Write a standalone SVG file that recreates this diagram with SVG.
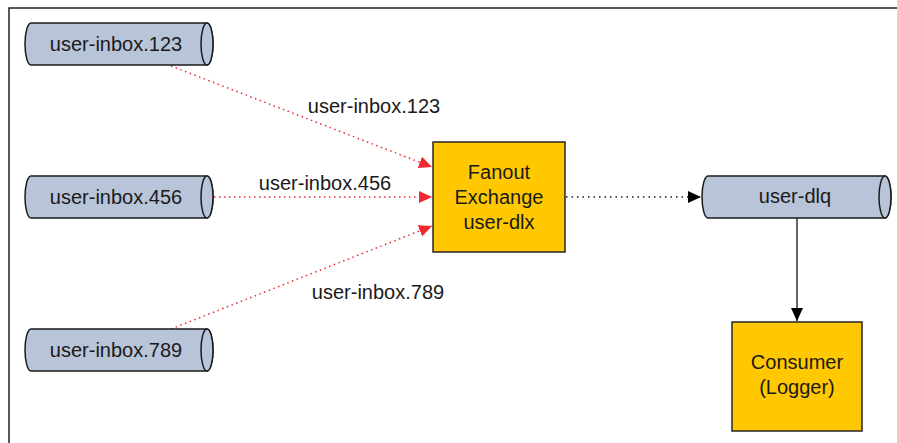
<svg xmlns="http://www.w3.org/2000/svg" width="897" height="443" viewBox="0 0 897 443">
<style>
.cyl{fill:#b8c4d8;stroke:#1a1a1a;stroke-width:1.5}
.box{fill:#ffc800;stroke:#262626;stroke-width:1.5}
text{font-family:"Liberation Sans",Arial,sans-serif;font-size:20px;fill:#1a1a1a;text-anchor:middle;dominant-baseline:central}
.red{stroke:#ee2a2f;stroke-width:1.5;stroke-dasharray:1.5 3.5;fill:none}
.blkdot{stroke:#1a1a1a;stroke-width:1.5;stroke-dasharray:1.5 4;fill:none}
.solid{stroke:#333;stroke-width:1.5;fill:none}
</style>
<defs>
<marker id="ar" markerWidth="14" markerHeight="12" refX="13" refY="6" orient="auto" markerUnits="userSpaceOnUse"><path d="M0,0 L13,6 L0,12 Z" fill="#ee2a2f"/></marker>
<marker id="ab" markerWidth="14" markerHeight="12" refX="13" refY="6" orient="auto" markerUnits="userSpaceOnUse"><path d="M0,0 L13,6 L0,12 Z" fill="#000"/></marker>
</defs>
<rect width="897" height="443" fill="#fff"/>
<path d="M9,443 L9,8 L897,8" fill="none" stroke="#222" stroke-width="1.5"/>
<g id="connectors">
<line class="red" x1="171" y1="66" x2="432" y2="167" marker-end="url(#ar)"/>
<line class="red" x1="214" y1="197" x2="432" y2="197" marker-end="url(#ar)"/>
<line class="red" x1="171" y1="329" x2="432" y2="226" marker-end="url(#ar)"/>
<line class="blkdot" x1="566" y1="197" x2="701" y2="197" marker-end="url(#ab)"/>
<line class="solid" x1="797" y1="218" x2="797" y2="321" marker-end="url(#ab)"/>
<text x="374" y="106">user-inbox.123</text>
<text x="325" y="183">user-inbox.456</text>
<text x="378" y="292">user-inbox.789</text>
</g>
<g id="q123">
<path class="cyl" d="M31,23 L207,23 A6,21 0 0 1 207,65 L31,65 A6,21 0 0 1 31,23 Z"/>
<ellipse class="cyl" cx="207" cy="44" rx="6" ry="21"/>
<text x="116" y="44">user-inbox.123</text>
</g>
<g id="q456">
<path class="cyl" d="M31,176 L207,176 A6,21 0 0 1 207,218 L31,218 A6,21 0 0 1 31,176 Z"/>
<ellipse class="cyl" cx="207" cy="197" rx="6" ry="21"/>
<text x="116" y="197">user-inbox.456</text>
</g>
<g id="q789">
<path class="cyl" d="M31,329 L207,329 A6,21 0 0 1 207,371 L31,371 A6,21 0 0 1 31,329 Z"/>
<ellipse class="cyl" cx="207" cy="350" rx="6" ry="21"/>
<text x="116" y="350">user-inbox.789</text>
</g>
<g id="exchange">
<rect class="box" x="433" y="142" width="132" height="110"/>
<text x="499" y="172">Fanout</text>
<text x="499" y="197">Exchange</text>
<text x="499" y="222">user-dlx</text>
</g>
<g id="dlq">
<path class="cyl" d="M708,176 L885,176 A6,21 0 0 1 885,218 L708,218 A6,21 0 0 1 708,176 Z"/>
<ellipse class="cyl" cx="885" cy="197" rx="6" ry="21"/>
<text x="795" y="196">user-dlq</text>
</g>
<g id="consumer">
<rect class="box" x="732" y="322" width="130" height="109"/>
<text x="797" y="362">Consumer</text>
<text x="797" y="387">(Logger)</text>
</g>
</svg>
